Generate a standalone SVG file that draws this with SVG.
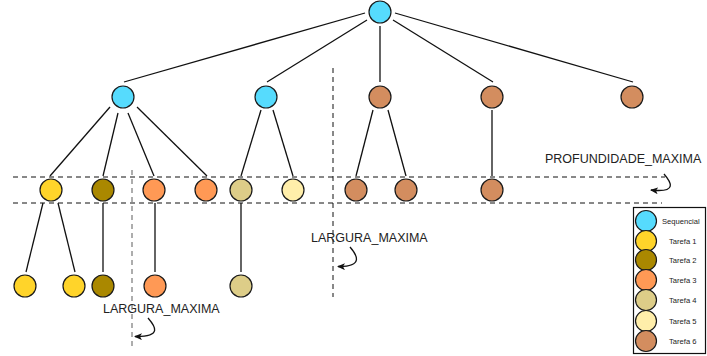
<svg xmlns="http://www.w3.org/2000/svg" width="707" height="356" viewBox="0 0 707 356">
<defs>
<style>
.n{stroke:#1a1a1a;stroke-width:1.2}
.e{stroke:#111;stroke-width:1.3;fill:none}
.d{stroke:#111;stroke-width:1;stroke-dasharray:5 4;fill:none}
.dg{stroke:#777;stroke-width:1.2;stroke-dasharray:5 4;fill:none}
.lbl{font-family:"Liberation Sans",Arial,sans-serif;font-size:12.5px;fill:#222}
.lg{font-family:"Liberation Sans",Arial,sans-serif;font-size:7.6px;fill:#222}
.ar{stroke:#111;stroke-width:1.3;fill:none;marker-end:url(#ah)}
.seq{fill:#56DBFD}.t1{fill:#FFD42A}.t2{fill:#AA8800}.t3{fill:#FF9955}.t4{fill:#DDCD88}.t5{fill:#FFEEAA}.t6{fill:#D38D5F}
</style>
<marker id="ah" markerWidth="10" markerHeight="8" refX="7" refY="3.5" orient="auto" markerUnits="userSpaceOnUse">
<path d="M0,0 L8,3.5 L0,7 L2,3.5 z" fill="#111"/>
</marker>
</defs>
<rect width="707" height="356" fill="#fff"/>
<g id="guides">
<line class="d" x1="13" y1="177" x2="665" y2="177"/>
<line class="d" x1="13" y1="203" x2="662" y2="203"/>
<line class="dg" x1="132" y1="170" x2="132" y2="350"/>
<line class="d" x1="333" y1="68" x2="333" y2="297"/>
</g>
<g id="connectors">
<line class="e" x1="365" y1="13" x2="124" y2="82"/>
<line class="e" x1="367" y1="20" x2="267" y2="82"/>
<line class="e" x1="380" y1="26" x2="380" y2="82"/>
<line class="e" x1="393" y1="20" x2="493" y2="82"/>
<line class="e" x1="395" y1="13" x2="633" y2="82"/>
<line class="e" x1="110" y1="107" x2="50" y2="176"/>
<line class="e" x1="118" y1="113" x2="103" y2="176"/>
<line class="e" x1="128" y1="113" x2="154" y2="176"/>
<line class="e" x1="137" y1="107" x2="207" y2="176"/>
<line class="e" x1="261" y1="110" x2="241" y2="176"/>
<line class="e" x1="273" y1="110" x2="293" y2="176"/>
<line class="e" x1="373" y1="110" x2="356" y2="176"/>
<line class="e" x1="388" y1="110" x2="406" y2="176"/>
<line class="e" x1="492" y1="110" x2="492" y2="176"/>
<line class="e" x1="43" y1="203" x2="26" y2="272"/>
<line class="e" x1="58" y1="203" x2="75" y2="272"/>
<line class="e" x1="103" y1="203" x2="103" y2="272"/>
<line class="e" x1="155" y1="203" x2="155" y2="272"/>
<line class="e" x1="241" y1="203" x2="241" y2="272"/>
</g>
<g id="root"><circle class="n seq" cx="380" cy="12" r="11"/></g>
<g id="a1"><circle class="n seq" cx="123" cy="97" r="11"/></g>
<g id="a2"><circle class="n seq" cx="266" cy="97" r="11"/></g>
<g id="a3"><circle class="n t6" cx="380" cy="97" r="11"/></g>
<g id="a4"><circle class="n t6" cx="492" cy="97" r="11"/></g>
<g id="a5"><circle class="n t6" cx="632" cy="97" r="11"/></g>
<g id="b1"><circle class="n t1" cx="51" cy="190" r="11"/></g>
<g id="b2"><circle class="n t2" cx="103" cy="190" r="11"/></g>
<g id="b3"><circle class="n t3" cx="154" cy="190" r="11"/></g>
<g id="b4"><circle class="n t3" cx="206" cy="190" r="11"/></g>
<g id="b5"><circle class="n t4" cx="241" cy="190" r="11"/></g>
<g id="b6"><circle class="n t5" cx="293" cy="190" r="11"/></g>
<g id="b7"><circle class="n t6" cx="356" cy="190" r="11"/></g>
<g id="b8"><circle class="n t6" cx="406" cy="190" r="11"/></g>
<g id="b9"><circle class="n t6" cx="492" cy="190" r="11"/></g>
<g id="c1"><circle class="n t1" cx="25" cy="286" r="11"/></g>
<g id="c2"><circle class="n t1" cx="74" cy="286" r="11"/></g>
<g id="c3"><circle class="n t2" cx="103" cy="286" r="11"/></g>
<g id="c4"><circle class="n t3" cx="155" cy="286" r="11"/></g>
<g id="c5"><circle class="n t4" cx="241" cy="286" r="11"/></g>
<g id="annotations">
<text class="lbl" x="103" y="313">LARGURA_MAXIMA</text>
<path class="ar" d="M148,318 C155,326 163,337 135,336.5"/>
<text class="lbl" x="311" y="242">LARGURA_MAXIMA</text>
<path class="ar" d="M350,247 C357,255 364,267 338,266.5"/>
<text class="lbl" x="545" y="163">PROFUNDIDADE_MAXIMA</text>
<path class="ar" d="M664,174 C671,182 678,193 651,190"/>
</g>
<g id="legend">
<rect x="633.5" y="207.5" width="72" height="146" fill="#fff" stroke="#111" stroke-width="1.2"/>
<circle class="n seq" cx="646" cy="221" r="10.5"/>
<circle class="n t1" cx="646" cy="241" r="10.5"/>
<circle class="n t2" cx="646" cy="260" r="10.5"/>
<circle class="n t3" cx="646" cy="280" r="10.5"/>
<circle class="n t4" cx="646" cy="300" r="10.5"/>
<circle class="n t5" cx="646" cy="321" r="10.5"/>
<circle class="n t6" cx="646" cy="341" r="10.5"/>
<text class="lg" x="662" y="224">Sequencial</text>
<text class="lg" x="669" y="244">Tarefa 1</text>
<text class="lg" x="669" y="263">Tarefa 2</text>
<text class="lg" x="669" y="283">Tarefa 3</text>
<text class="lg" x="669" y="303">Tarefa 4</text>
<text class="lg" x="669" y="324">Tarefa 5</text>
<text class="lg" x="669" y="344">Tarefa 6</text>
</g>
</svg>
